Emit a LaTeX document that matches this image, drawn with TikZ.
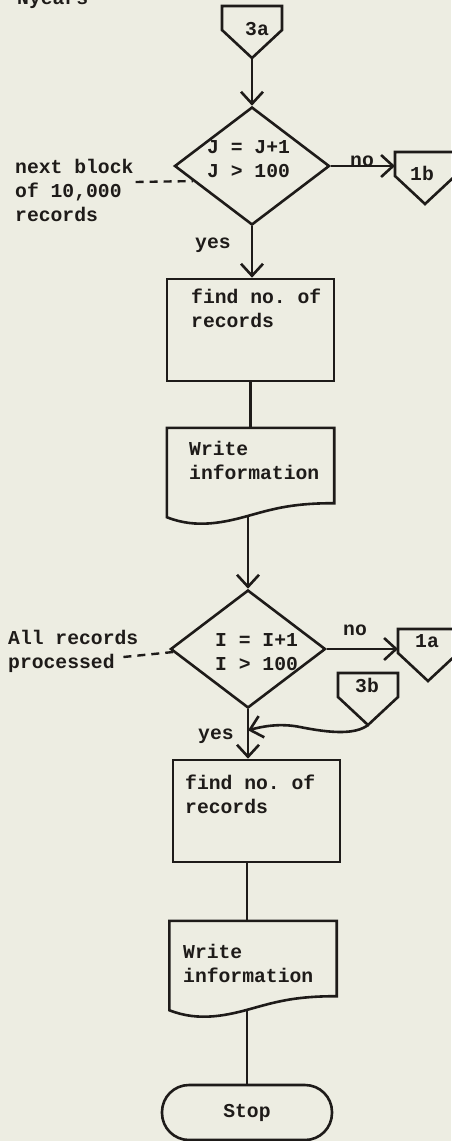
\documentclass[tikz,border=0pt]{standalone}
\usepackage{fontspec}
\setmonofont{Liberation Mono}
\usetikzlibrary{shapes.geometric,arrows.meta,calc}
\definecolor{paper}{RGB}{237,237,226}
\definecolor{ink}{RGB}{30,27,25}

\begin{document}
\begin{tikzpicture}[x=1pt,y=1pt,
  txt/.style={inner sep=0pt, text=ink, align=left, anchor=base west,
    font=\fontsize{19.7}{24}\selectfont\ttfamily\bfseries},
  decision/.style={draw=ink, line width=2.6pt, diamond, inner sep=0pt,
    minimum width=155pt, minimum height=118pt},
  process/.style={draw=ink, line width=2.6pt, rectangle, inner sep=0pt,
    minimum width=167pt, minimum height=102pt},
  docbox/.style={rectangle, inner sep=0pt, minimum width=167pt, minimum height=89pt},
  terminal/.style={draw=ink, line width=2.6pt, rectangle, rounded corners=27pt,
    minimum width=170pt, minimum height=55pt, inner sep=0pt, text=ink,
    font=\fontsize{19.7}{24}\selectfont\ttfamily\bfseries},
  link/.style={draw=ink, line width=2.6pt},
  flow/.style={link, -{Straight Barb[length=12pt,width=22pt]}},
  hint/.style={draw=ink, line width=2.4pt, dash pattern=on 8pt off 6pt},
  pics/offpage/.style={code={
    \draw[link] (0,0) -- (-30,28) -- (-30,52) -- (30,52) -- (30,28) -- cycle;
    \coordinate (-tip) at (0,0);
    \coordinate (-in) at (-30,37);
  }}
]
% sheet
\fill[paper] (0,0) rectangle (451,-1141);
\useasboundingbox (0,0) rectangle (451,-1141);

\node[txt] (nyears) at (17,-4) {Nyears};

% off-page connectors
\pic (c3a) at (252,-58) {offpage};
\pic (c1b) at (425,-204) {offpage};
\pic (c1a) at (428,-681) {offpage};
\pic (c3b) at (368,-725) {offpage};
\node[txt] (t3a) at (245,-35) {3a};
\node[txt] (t1b) at (410,-180) {1b};
\node[txt] (t1a) at (415,-647) {1a};
\node[txt] (t3b) at (355,-692) {3b};

% main blocks
\node[decision] (d1) at (252,-166) {};
\node[process]  (b1) at (250.5,-330) {};
\node[docbox]   (w1) at (250.5,-472.5) {};
\node[decision] (d2) at (248,-649) {};
\node[process]  (b2) at (256.5,-811) {};
\node[docbox]   (w2) at (253,-965.5) {};
\node[terminal] (stop) at (247,-1112.5) {Stop};

% document outlines with wavy bottom edge
\foreach \w in {w1,w2}
  \draw[link] (\w.south west) -- (\w.north west) -- (\w.north east)
    -- ([yshift=14pt]\w.south east)
    .. controls +(-40,0) and +(25,7) .. ([yshift=2pt]\w.south)
    .. controls +(-25,-7) and +(30,-12) .. (\w.south west) -- cycle;

% texts inside the blocks (anchored at the baseline of the last line)
\node[txt] (td1) at (207,-177) {J = J+1\\J > 100};
\node[txt] (td2) at (215,-670) {I = I+1\\I > 100};
\node[txt] (tb1) at (191,-327) {find no. of\\records};
\node[txt] (tw1) at (189,-479) {Write\\information};
\node[txt] (tb2) at (185,-813) {find no. of\\records};
\node[txt] (tw2) at (183,-982) {Write\\information};

% side notes
\node[txt] (lbl1) at (15,-221) {next block\\of 10,000\\records};
\node[txt] (lbl2) at (8,-668) {All records\\processed};
\draw[hint] ([xshift=2pt,yshift=39pt]lbl1.base east) -- ($(d1.west)!0.25!(d1.south)$);
\draw[hint] ([xshift=-15pt,yshift=11pt]lbl2.base east) -- ($(d2.west)!0.05!(d2.south)$);

% branch labels
\node[txt] (no1)  at (350,-166) {no};
\node[txt] (no2)  at (343,-635) {no};
\node[txt] (yes1) at (195,-248) {yes};
\node[txt] (yes2) at (198,-739) {yes};

% connectors
\draw[flow] (c3a-tip) -- (d1.north);
\draw[flow] (d1.east) -- (d1.east -| c1b-in);
\draw[flow] (d1.south) -- (d1.south |- b1.north);
\draw[link] (b1.south) -- (b1.south |- w1.north);
\draw[flow] (d2.north |- w1.south) -- (d2.north);
\draw[flow] (d2.east) -- (d2.east -| c1a-in);
\draw[flow] (d2.south) -- (d2.south |- b2.north);
\coordinate (join) at ($(d2.south)+(0,-21)$);
\draw[flow] (c3b-tip) .. controls +(-13,-10) and +(30,-6) .. ++(-68,-2)
  .. controls +(-20,4) and +(15,4) .. (join);
\draw[link] (stop.north |- b2.south) -- (stop.north |- w2.north);
\draw[link] (stop.north |- w2.south) -- (stop.north);
\end{tikzpicture}
\end{document}
